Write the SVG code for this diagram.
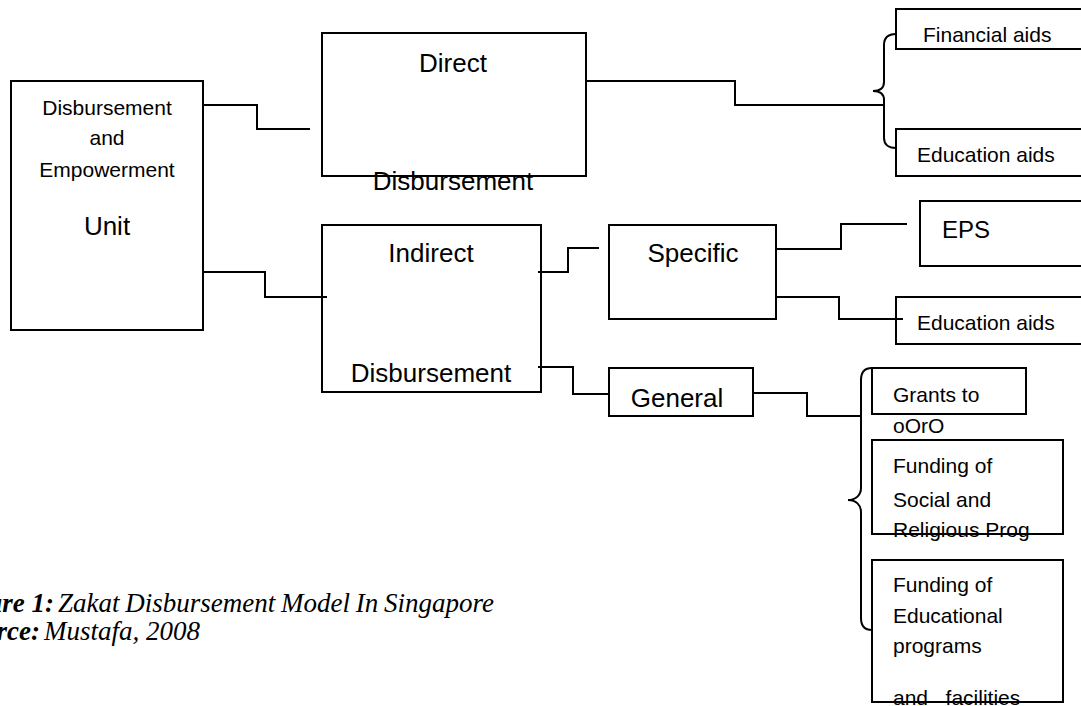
<svg xmlns="http://www.w3.org/2000/svg" width="1081" height="706" viewBox="0 0 1081 706">
<style>
.box{fill:none;stroke:#000;stroke-width:2}
.ln{fill:none;stroke:#000;stroke-width:2}
.t{font-family:"Liberation Sans",Arial,sans-serif;fill:#000}
.s{font-size:21px}
.b{font-size:26px}
.c{text-anchor:middle}
.cap{font-family:"Liberation Serif","Times New Roman",serif;font-size:27px;fill:#000;font-style:italic}
</style>
<rect width="1081" height="706" fill="#fff"/>
<g id="connectors">
<polyline class="ln" points="203,105 257,105 257,129 310,129"/>
<polyline class="ln" points="203,272 265,272 265,297 327,297"/>
<polyline class="ln" points="586,81 735,81 735,105 884,105"/>
<path class="ln" d="M896,34 C888,34 884,38 884,45 L884,82 C884,88 880,91 873,91 C880,91 884,94 884,100 L884,138 C884,144 888,148 896,148"/>
<polyline class="ln" points="538,272 568,272 568,248 599,248"/>
<polyline class="ln" points="538,367 573,367 573,394 609,394"/>
<polyline class="ln" points="776,249 841,249 841,224 907,224"/>
<polyline class="ln" points="776,297 839,297 839,319 903,319"/>
<polyline class="ln" points="753,393 807,393 807,416 861,416"/>
<path class="ln" d="M872,368 C865,368 861,372 861,380 L861,488 C861,495 856,500 848,500 C856,500 861,505 861,512 L861,618 C861,626 865,630 872,630"/>
</g>
<g id="unit">
<rect class="box" x="11" y="81" width="192" height="249"/>
<text class="t s c" x="107" y="115">Disbursement</text>
<text class="t s c" x="107" y="145">and</text>
<text class="t s c" x="107" y="177">Empowerment</text>
<text class="t b c" x="107" y="235">Unit</text>
</g>
<g id="direct">
<rect class="box" x="322" y="33" width="264" height="143"/>
<text class="t b c" x="453" y="72">Direct</text>
<text class="t b c" x="453" y="190">Disbursement</text>
</g>
<g id="financial">
<rect class="box" x="896" y="9" width="200" height="40"/>
<text class="t s" x="923" y="42">Financial aids</text>
</g>
<g id="education1">
<rect class="box" x="896" y="129" width="200" height="47"/>
<text class="t s" x="917" y="162">Education aids</text>
</g>
<g id="indirect">
<rect class="box" x="322" y="225" width="219" height="167"/>
<text class="t b c" x="431" y="262">Indirect</text>
<text class="t b c" x="431" y="382">Disbursement</text>
</g>
<g id="specific">
<rect class="box" x="609" y="225" width="167" height="94"/>
<text class="t b c" x="693" y="262">Specific</text>
</g>
<g id="general">
<rect class="box" x="609" y="368" width="144" height="48"/>
<text class="t b c" x="677" y="407">General</text>
</g>
<g id="eps">
<rect class="box" x="920" y="201" width="180" height="65"/>
<text class="t" x="942" y="238" font-size="24">EPS</text>
</g>
<g id="education2">
<rect class="box" x="896" y="297" width="200" height="47"/>
<text class="t s" x="917" y="330">Education aids</text>
</g>
<g id="grants">
<rect class="box" x="872" y="368" width="154" height="46"/>
<text class="t s" x="893" y="402">Grants to</text>
<text class="t s" x="893" y="433">oOrO</text>
</g>
<g id="social">
<rect class="box" x="872" y="440" width="191" height="94"/>
<text class="t s" x="893" y="473">Funding of</text>
<text class="t s" x="893" y="507">Social and</text>
<text class="t s" x="893" y="537">Religious Prog</text>
</g>
<g id="educational">
<rect class="box" x="872" y="560" width="191" height="142"/>
<text class="t s" x="893" y="592">Funding of</text>
<text class="t s" x="893" y="623">Educational</text>
<text class="t s" x="893" y="653">programs</text>
<text class="t s" x="893" y="705" style="white-space:pre">and   facilities</text>
</g>
<g id="caption">
<text class="cap" y="612"><tspan x="54" text-anchor="end" font-weight="bold">Figure 1:</tspan><tspan x="58" text-anchor="start" word-spacing="-1">Zakat Disbursement Model In Singapore</tspan></text>
<text class="cap" y="640"><tspan x="40" text-anchor="end" font-weight="bold">Source:</tspan><tspan x="44" text-anchor="start">Mustafa, 2008</tspan></text>
</g>
</svg>
